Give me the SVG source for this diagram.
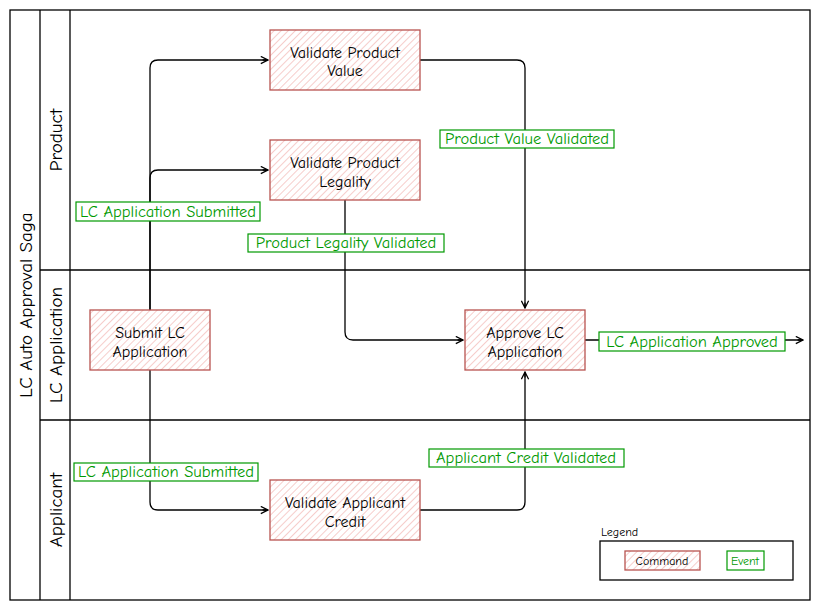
<svg xmlns="http://www.w3.org/2000/svg" width="824" height="611" viewBox="0 0 824 611">
<defs>
<pattern id="hatch" patternUnits="userSpaceOnUse" width="5" height="5" patternTransform="rotate(45)">
<rect width="5" height="5" fill="#ffffff"/>
<line x1="0" y1="0" x2="0" y2="5" stroke="#f6cdcb" stroke-width="2"/>
</pattern>
<marker id="arr" viewBox="0 0 10 10" refX="9" refY="5" markerWidth="9" markerHeight="9" orient="auto" markerUnits="userSpaceOnUse">
<path d="M1,1 L9,5 L1,9 M9,5 L3,5" fill="none" stroke="#000" stroke-width="1.4"/>
</marker>
</defs>
<style>
.lane{fill:none;stroke:#000;stroke-width:1.3}
.cmd rect{fill:url(#hatch);stroke:#b85450;stroke-width:1.3}
.cmd text{font-family:"Comic Neue","Liberation Sans",sans-serif;font-size:16px;fill:#000;text-anchor:middle}
.ev rect{fill:#fff;stroke:#009900;stroke-width:1.2}
.ev text{font-family:"Comic Neue","Liberation Sans",sans-serif;font-size:16.5px;fill:#009900;text-anchor:middle}
.hdr{font-family:"Comic Neue","Liberation Sans",sans-serif;font-size:19px;fill:#000;text-anchor:middle}
.edge{fill:none;stroke:#000;stroke-width:1.3}
</style>
<rect width="824" height="611" fill="#fff"/>
<g id="pool">
<rect class="lane" x="10" y="10" width="800" height="590"/>
<line class="lane" x1="40" y1="10" x2="40" y2="600"/>
<line class="lane" x1="70" y1="10" x2="70" y2="600"/>
<line class="lane" x1="40" y1="270" x2="810" y2="270"/>
<line class="lane" x1="40" y1="420" x2="810" y2="420"/>
<text class="hdr" transform="translate(32,305) rotate(-90)">LC Auto Approval Saga</text>
<text class="hdr" transform="translate(62,140) rotate(-90)">Product</text>
<text class="hdr" transform="translate(62,345) rotate(-90)">LC Application</text>
<text class="hdr" transform="translate(62,510) rotate(-90)">Applicant</text>
</g>
<g id="connectors">
<path class="edge" d="M150,310 L150,68 Q150,60 158,60 L268,60" marker-end="url(#arr)"/>
<path class="edge" d="M150,310 L150,178 Q150,170 158,170 L268,170" marker-end="url(#arr)"/>
<path class="edge" d="M150,370 L150,502 Q150,510 158,510 L268,510" marker-end="url(#arr)"/>
<path class="edge" d="M420,60 L517,60 Q525,60 525,68 L525,308" marker-end="url(#arr)"/>
<path class="edge" d="M345,200 L345,332 Q345,340 353,340 L463,340" marker-end="url(#arr)"/>
<path class="edge" d="M420,510 L517,510 Q525,510 525,502 L525,372" marker-end="url(#arr)"/>
<path class="edge" d="M585,340 L803,340" marker-end="url(#arr)"/>
</g>
<g id="validate-product-value" class="cmd">
<rect x="270" y="30" width="150" height="60"/>
<text x="345" y="58">Validate Product</text>
<text x="345" y="76">Value</text>
</g>
<g id="validate-product-legality" class="cmd">
<rect x="270" y="140" width="150" height="60"/>
<text x="345" y="168">Validate Product</text>
<text x="345" y="187">Legality</text>
</g>
<g id="submit-lc-application" class="cmd">
<rect x="90" y="310" width="120" height="60"/>
<text x="150" y="338">Submit LC</text>
<text x="150" y="357">Application</text>
</g>
<g id="approve-lc-application" class="cmd">
<rect x="465" y="310" width="120" height="60"/>
<text x="525" y="338">Approve LC</text>
<text x="525" y="357">Application</text>
</g>
<g id="validate-applicant-credit" class="cmd">
<rect x="270" y="480" width="150" height="60"/>
<text x="345" y="508">Validate Applicant</text>
<text x="345" y="527">Credit</text>
</g>
<g id="ev-submitted-1" class="ev">
<rect x="76" y="202" width="184" height="19"/>
<text x="168" y="217">LC Application Submitted</text>
</g>
<g id="ev-submitted-2" class="ev">
<rect x="74" y="463" width="184" height="18"/>
<text x="166" y="477">LC Application Submitted</text>
</g>
<g id="ev-value-validated" class="ev">
<rect x="440" y="130" width="174" height="18"/>
<text x="527" y="144">Product Value Validated</text>
</g>
<g id="ev-legality-validated" class="ev">
<rect x="248" y="234" width="196" height="18"/>
<text x="346" y="248">Product Legality Validated</text>
</g>
<g id="ev-credit-validated" class="ev">
<rect x="429" y="449" width="195" height="18"/>
<text x="526" y="463">Applicant Credit Validated</text>
</g>
<g id="ev-approved" class="ev">
<rect x="599" y="332" width="186" height="19"/>
<text x="692" y="347">LC Application Approved</text>
</g>
<g id="legend">
<text x="601" y="536" style="font-family:'Comic Neue','Liberation Sans',sans-serif;font-size:12px;fill:#000">Legend</text>
<rect x="600" y="541" width="193" height="39" fill="#fff" stroke="#000" stroke-width="1.3"/>
<g class="cmd">
<rect x="625" y="551" width="75" height="19"/>
<text x="662" y="565" style="font-size:12px">Command</text>
</g>
<g class="ev">
<rect x="727" y="551" width="37" height="19"/>
<text x="745" y="565" style="font-size:12px">Event</text>
</g>
</g>
</svg>
